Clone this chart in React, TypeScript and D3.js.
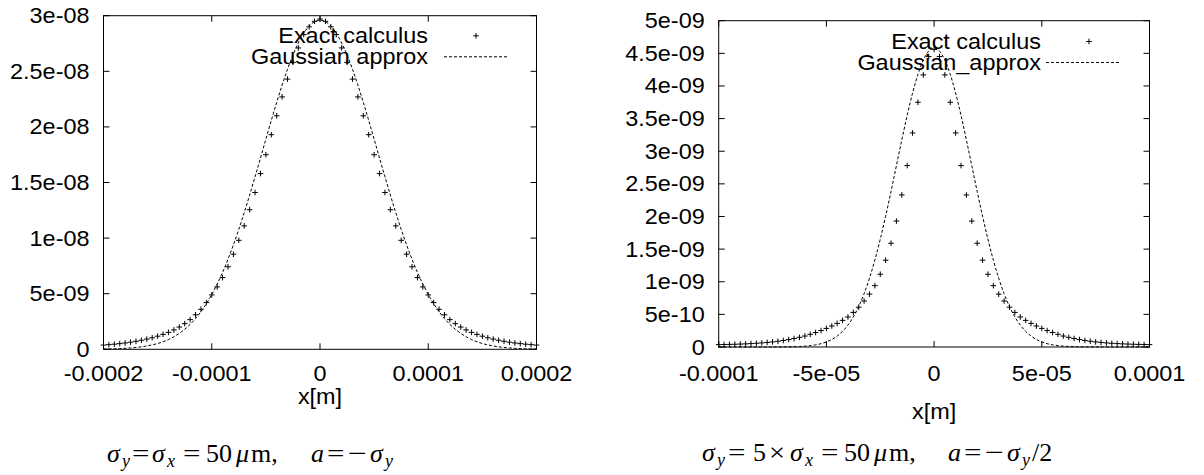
import React from "react";
import * as d3 from "d3";

// ---- data (y values in units of 1e-9) ----
const leftXTicks = [-0.0002, -0.0001, 0, 0.0001, 0.0002];
const leftXTickLabels = ["-0.0002", "-0.0001", "0", "0.0001", "0.0002"];
const leftYTicks = [0, 5, 10, 15, 20, 25, 30];
const leftYTickLabels = ["0", "5e-09", "1e-08", "1.5e-08", "2e-08", "2.5e-08", "3e-08"];

const rightXTicks = [-0.0001, -0.00005, 0, 0.00005, 0.0001];
const rightXTickLabels = ["-0.0001", "-5e-05", "0", "5e-05", "0.0001"];
const rightYTicks = [0, 0.5, 1, 1.5, 2, 2.5, 3, 3.5, 4, 4.5, 5];
const rightYTickLabels = ["0", "5e-10", "1e-09", "1.5e-09", "2e-09", "2.5e-09", "3e-09", "3.5e-09", "4e-09", "4.5e-09", "5e-09"];

// sample grids: 81 points each
const leftX = d3.range(81).map((i) => -0.0002 + i * 5e-6);
const rightX = d3.range(81).map((i) => -0.0001 + i * 2.5e-6);

const leftExact = [
  0.38, 0.42, 0.46, 0.51, 0.57, 0.64, 0.72, 0.81, 0.92, 1.04,
  1.18, 1.34, 1.52, 1.74, 2.0, 2.31, 2.67, 3.1, 3.6, 4.2,
  4.89, 5.61, 6.45, 7.42, 8.55, 9.8, 11.1, 12.55, 14.1, 15.8,
  17.5, 19.3, 21.0, 22.7, 24.3, 25.8, 27.1, 28.3, 29.0, 29.5,
  29.7,
  29.5, 29.0, 28.3, 27.1, 25.8, 24.3, 22.7, 21.0, 19.3, 17.5,
  15.8, 14.1, 12.55, 11.1, 9.8, 8.55, 7.42, 6.45, 5.61, 4.89,
  4.2, 3.6, 3.1, 2.67, 2.31, 2.0, 1.74, 1.52, 1.34, 1.18,
  1.04, 0.92, 0.81, 0.72, 0.64, 0.57, 0.51, 0.46, 0.42, 0.38,
];

const leftGauss = [
  0.023, 0.032, 0.046, 0.064, 0.09, 0.12, 0.17, 0.22, 0.3, 0.4,
  0.52, 0.68, 0.88, 1.13, 1.43, 1.8, 2.24, 2.76, 3.38, 4.1,
  4.93, 5.87, 6.92, 8.1, 9.39, 10.79, 12.29, 13.87, 15.52, 17.2,
  18.9, 20.58, 22.21, 23.76, 25.19, 26.46, 27.55, 28.43, 29.07, 29.47,
  29.6,
  29.47, 29.07, 28.43, 27.55, 26.46, 25.19, 23.76, 22.21, 20.58, 18.9,
  17.2, 15.52, 13.87, 12.29, 10.79, 9.39, 8.1, 6.92, 5.87, 4.93,
  4.1, 3.38, 2.76, 2.24, 1.8, 1.43, 1.13, 0.88, 0.68, 0.52,
  0.4, 0.3, 0.22, 0.17, 0.12, 0.09, 0.064, 0.046, 0.032, 0.023,
];

const rightExact = [
  0.036, 0.038, 0.04, 0.042, 0.045, 0.048, 0.052, 0.057, 0.063, 0.07,
  0.078, 0.088, 0.1, 0.114, 0.13, 0.148, 0.168, 0.194, 0.222, 0.252,
  0.285, 0.322, 0.362, 0.408, 0.46, 0.53, 0.61, 0.705, 0.81, 0.94,
  1.115, 1.33, 1.59, 1.93, 2.33, 2.78, 3.28, 3.75, 4.17, 4.45,
  4.56,
  4.45, 4.17, 3.75, 3.28, 2.78, 2.33, 1.93, 1.59, 1.33, 1.115,
  0.94, 0.81, 0.705, 0.61, 0.53, 0.46, 0.408, 0.362, 0.322, 0.285,
  0.252, 0.222, 0.194, 0.168, 0.148, 0.13, 0.114, 0.1, 0.088, 0.078,
  0.07, 0.063, 0.057, 0.052, 0.048, 0.045, 0.042, 0.04, 0.038, 0.036,
];

const rightGauss = [
  0, 0, 0, 0, 0, 0, 0, 0.0001, 0.0001, 0.0002,
  0.0005, 0.0009, 0.0015, 0.0027, 0.0046, 0.0078, 0.013, 0.021, 0.033, 0.051,
  0.077, 0.115, 0.168, 0.24, 0.336, 0.461, 0.62, 0.817, 1.054, 1.332,
  1.651, 2.004, 2.383, 2.778, 3.172, 3.549, 3.89, 4.178, 4.397, 4.534,
  4.58,
  4.534, 4.397, 4.178, 3.89, 3.549, 3.172, 2.778, 2.383, 2.004, 1.651,
  1.332, 1.054, 0.817, 0.62, 0.461, 0.336, 0.24, 0.168, 0.115, 0.077,
  0.051, 0.033, 0.021, 0.013, 0.0078, 0.0046, 0.0027, 0.0015, 0.0009, 0.0005,
  0.0002, 0.0001, 0.0001, 0, 0, 0, 0, 0, 0, 0,
];

// caption pieces: [text, kind, x] where kind: i = italic, s = italic subscript, r = roman
const leftCaption = [
  ["σ", "i", 107], ["y", "s", 122], ["=", "r", 132], ["σ", "i", 152], ["x", "s", 167],
  ["=", "r", 183], ["50", "r", 206], ["μ", "i", 236], ["m,", "r", 251], ["a", "i", 311],
  ["=", "r", 327], ["−", "r", 348], ["σ", "i", 370], ["y", "s", 385],
];
const rightCaption = [
  ["σ", "i", 702], ["y", "s", 717], ["=", "r", 728], ["5", "r", 753], ["×", "r", 769],
  ["σ", "i", 790], ["x", "s", 805], ["=", "r", 821], ["50", "r", 844], ["μ", "i", 874],
  ["m,", "r", 889], ["a", "i", 948], ["=", "r", 964], ["−", "r", 985], ["σ", "i", 1007],
  ["y", "s", 1022], ["/2", "r", 1032],
];

const SANS = "'Liberation Sans', Arial, Helvetica, sans-serif";
const SERIF = "'Liberation Serif', 'Times New Roman', serif";

const Label = ({ x, y, anchor = "start", children }) => (
  <text
    transform={`translate(${x},${y}) scale(1.065,1)`}
    textAnchor={anchor}
    fontFamily={SANS}
    fontSize={22}
    fill="#000"
  >
    {children}
  </text>
);

const plus = (cx, cy, r = 2.8) => `M${cx - r},${cy}H${cx + r}M${cx},${cy - r}V${cy + r}`;

const Panel = ({
  box, xDomain, yDomain, xTicks, xTickLabels, yTicks, yTickLabels,
  xs, exact, gauss, gaussName, legend, xLabelY,
}) => {
  const x = d3.scaleLinear().domain(xDomain).range([box.left, box.right]);
  const y = d3.scaleLinear().domain(yDomain).range([box.bottom, box.top]);
  const line = d3
    .line<number>()
    .x((_, i) => x(xs[i]))
    .y((d) => y(d))
    .curve(d3.curveMonotoneX);
  const tick = 6;

  return (
    <g>
      <rect
        x={box.left}
        y={box.top}
        width={box.right - box.left}
        height={box.bottom - box.top}
        fill="none"
        stroke="#000"
        strokeWidth={1}
      />
      {yTicks.map((v, i) => (
        <g key={"y" + i}>
          <path d={`M${box.left},${y(v)}h${tick}M${box.right},${y(v)}h${-tick}`} stroke="#000" />
          <Label x={box.left - 14} y={y(v) + 7.5} anchor="end">{yTickLabels[i]}</Label>
        </g>
      ))}
      {xTicks.map((v, i) => (
        <g key={"x" + i}>
          <path d={`M${x(v)},${box.bottom}v${-tick}M${x(v)},${box.top}v${tick}`} stroke="#000" />
          <Label x={x(v)} y={381} anchor="middle">{xTickLabels[i]}</Label>
        </g>
      ))}
      <Label x={(box.left + box.right) / 2} y={xLabelY} anchor="middle">x[m]</Label>

      <path d={line(gauss)} fill="none" stroke="#000" strokeWidth={1} strokeDasharray="3,2" />
      <path
        d={exact.map((v, i) => plus(x(xs[i]), y(v))).join("")}
        fill="none"
        stroke="#000"
        strokeWidth={1}
      />

      <Label x={legend.textX} y={legend.y1} anchor="end">Exact calculus</Label>
      <Label x={legend.textX} y={legend.y2} anchor="end">{gaussName}</Label>
      <path d={plus(legend.plusX, legend.y1 - 7.5)} stroke="#000" strokeWidth={1} />
      <path
        d={`M${legend.dash0},${legend.y2 - 7.5}H${legend.dash1}`}
        stroke="#000"
        strokeWidth={1}
        strokeDasharray="3,2"
      />
    </g>
  );
};

// wider relation glyphs to mimic the TeX font
const glyphWidth = { "=": 17.5, "−": 19, "×": 16 };

const Caption = ({ y, parts }) => (
  <g fontFamily={SERIF} fill="#000">
    {parts.map(([t, kind, px], i) => (
      <text
        key={i}
        x={px}
        y={kind === "s" ? y + 5 : y}
        fontSize={kind === "s" ? 18 : 26}
        fontStyle={kind === "r" ? "normal" : "italic"}
        textLength={glyphWidth[t]}
        lengthAdjust={glyphWidth[t] ? "spacingAndGlyphs" : undefined}
      >
        {t}
      </text>
    ))}
  </g>
);

export default function App() {
  return (
    <svg
      width={1204}
      height={475}
      style={{ position: "absolute", left: 0, top: 0, background: "#fff" }}
    >
      <rect width={1204} height={475} fill="#fff" />
      <Panel
        box={{ left: 103.5, right: 536.5, top: 15.7, bottom: 349.3 }}
        xDomain={[-0.0002, 0.0002]}
        yDomain={[0, 30]}
        xTicks={leftXTicks}
        xTickLabels={leftXTickLabels}
        yTicks={leftYTicks}
        yTickLabels={leftYTickLabels}
        xs={leftX}
        exact={leftExact}
        gauss={leftGauss}
        gaussName="Gaussian approx"
        legend={{ textX: 428, y1: 43.3, y2: 64.3, plusX: 476, dash0: 444, dash1: 508 }}
        xLabelY={404}
      />
      <Panel
        box={{ left: 718.7, right: 1149.5, top: 20.7, bottom: 347 }}
        xDomain={[-0.0001, 0.0001]}
        yDomain={[0, 5]}
        xTicks={rightXTicks}
        xTickLabels={rightXTickLabels}
        yTicks={rightYTicks}
        yTickLabels={rightYTickLabels}
        xs={rightX}
        exact={rightExact}
        gauss={rightGauss}
        gaussName="Gaussian_approx"
        legend={{ textX: 1041, y1: 49, y2: 70, plusX: 1089, dash0: 1046, dash1: 1121 }}
        xLabelY={419}
      />
      <Caption y={462} parts={leftCaption} />
      <Caption y={461} parts={rightCaption} />
    </svg>
  );
}
